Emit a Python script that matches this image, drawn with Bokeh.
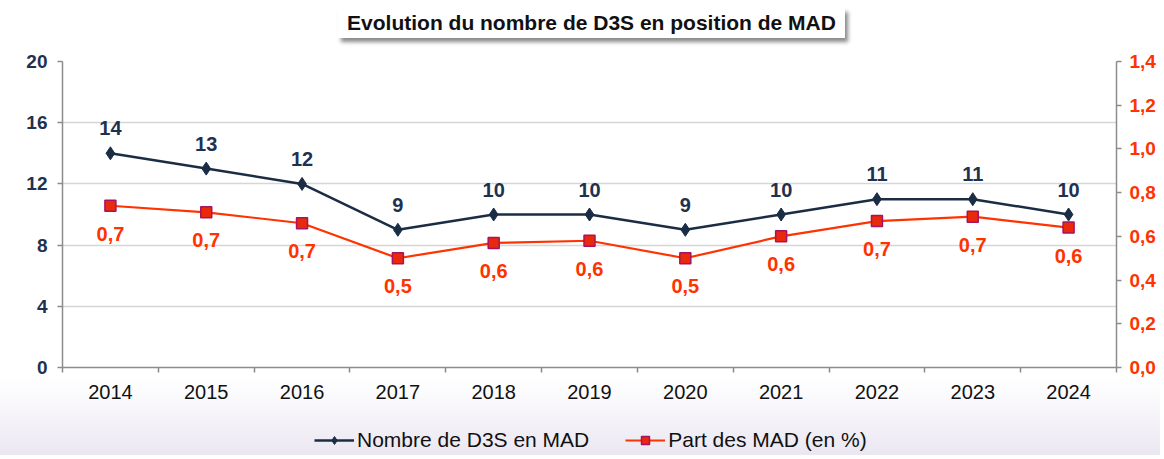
from bokeh.plotting import figure
from bokeh.layouts import column
from bokeh.models import (Range1d, LinearAxis, FixedTicker, CustomJSTickFormatter,
                          Legend, LegendItem, Div)
from bokeh.core.properties import value
from bokeh.embed import file_html
from bokeh.resources import INLINE

# ---- data ----
title_text = "Evolution du nombre de D3S en position de MAD"
years = ["2014", "2015", "2016", "2017", "2018", "2019", "2020", "2021", "2022", "2023", "2024"]
nombre = [14, 13, 12, 9, 10, 10, 9, 10, 11, 11, 10]
part = [0.74, 0.71, 0.66, 0.50, 0.57, 0.58, 0.50, 0.60, 0.67, 0.69, 0.64]
nombre_labels = ["14", "13", "12", "9", "10", "10", "9", "10", "11", "11", "10"]
part_labels = ["0,7", "0,7", "0,7", "0,5", "0,6", "0,6", "0,5", "0,6", "0,7", "0,7", "0,6"]
left_ticks = [0, 4, 8, 12, 16, 20]
right_ticks = [0.0, 0.2, 0.4, 0.6, 0.8, 1.0, 1.2, 1.4]
series_names = ["Nombre de D3S en MAD", "Part des MAD (en %)"]

NAVY = "#1b2c45"
NAVY_TXT = "#1f3150"
ORANGE = "#ff3300"
SQ_FILL = "#e8290c"
SQ_LINE = "#a8125e"
GRAY = "#8c8c8c"
FONT = "Liberation Sans"
W = 1160

n = len(years)
xs = [i + 0.5 for i in range(n)]
bounds = list(range(n + 1))

# ---- title box (with drop shadow) ----
title = Div(text=title_text, width=507, height=30, margin=(8, 0, 0, 338),
            styles={"background": "white", "box-shadow": "3px 4px 4px #8a8a8a",
                    "font-family": FONT, "font-size": "21px", "font-weight": "bold",
                    "color": "#111111", "text-align": "center", "line-height": "30px",
                    "white-space": "nowrap"})

p = figure(width=W, height=377, x_range=Range1d(0, n), y_range=Range1d(0, 20),
           output_backend="svg", toolbar_location=None,
           min_border_left=62, min_border_right=44, min_border_top=23, min_border_bottom=48,
           background_fill_color="white", border_fill_alpha=0, outline_line_color=None)
p.extra_y_ranges = {"pct": Range1d(0, 1.4)}

# x axis: ticks at category boundaries
xa = p.xaxis[0]
xa.ticker = FixedTicker(ticks=bounds)
xa.formatter = CustomJSTickFormatter(code="return '';")
xa.major_label_standoff = 0
xa.major_tick_out = 5
xa.major_tick_in = 0
xa.minor_tick_line_color = None
xa.axis_line_color = GRAY
xa.axis_line_width = 1.5
xa.major_tick_line_color = GRAY
xa.major_tick_line_width = 1.5

# x labels at category centres
xl = LinearAxis(ticker=FixedTicker(ticks=xs),
                formatter=CustomJSTickFormatter(args=dict(years=years),
                                                code="return years[Math.floor(tick)];"),
                axis_line_color=None, major_tick_line_color=None, minor_tick_line_color=None,
                major_label_standoff=6, major_label_text_font=FONT,
                major_label_text_font_size="20px", major_label_text_color="#111111")
p.add_layout(xl, "below")

# left axis
ya = p.yaxis[0]
ya.ticker = FixedTicker(ticks=left_ticks)
ya.major_label_text_font = FONT
ya.major_label_text_font_size = "19px"
ya.major_label_text_font_style = "bold"
ya.major_label_text_color = NAVY_TXT
ya.axis_line_color = GRAY
ya.axis_line_width = 1.5
ya.major_tick_line_color = GRAY
ya.major_tick_line_width = 1.5
ya.major_tick_out = 5
ya.major_tick_in = 0
ya.minor_tick_line_color = None
ya.major_label_standoff = 10

p.xgrid.grid_line_color = None
p.ygrid.ticker = FixedTicker(ticks=left_ticks)
p.ygrid.grid_line_color = "#d6d6d6"
p.ygrid.grid_line_width = 1.5

# right axis
yr = LinearAxis(y_range_name="pct", ticker=FixedTicker(ticks=right_ticks),
                formatter=CustomJSTickFormatter(code="return tick.toFixed(1).replace('.', ',');"),
                major_label_text_font=FONT, major_label_text_font_size="19px",
                major_label_text_font_style="bold", major_label_text_color=ORANGE,
                axis_line_color=GRAY, axis_line_width=1.5,
                major_tick_line_color=GRAY, major_tick_line_width=1.5,
                major_tick_out=5, major_tick_in=0, minor_tick_line_color=None,
                major_label_standoff=8)
p.add_layout(yr, "right")

# series
p.line(xs, nombre, line_color=NAVY, line_width=2.5)
p.scatter(xs, nombre, marker="diamond", size=13, fill_color=NAVY, line_color=NAVY)
p.line(xs, part, y_range_name="pct", line_color=ORANGE, line_width=2.2)
p.scatter(xs, part, y_range_name="pct", marker="square", size=11,
          fill_color=SQ_FILL, line_color=SQ_LINE, line_width=1.5)

p.text(xs, nombre, text=nombre_labels, text_font=value(FONT), text_font_size="20px",
       text_font_style="bold", text_color=NAVY_TXT, text_align="center",
       text_baseline="middle", y_offset=-25)
p.text(xs, part, text=part_labels, y_range_name="pct", text_font=value(FONT),
       text_font_size="20px", text_font_style="bold", text_color=ORANGE,
       text_align="center", text_baseline="middle", y_offset=28)

# legend strip: separate figure so the legend sits outside the plot frame.
# Its renderers reuse the series data but the ranges keep them out of view.
lf = figure(width=W, height=40, output_backend="svg", toolbar_location=None,
            min_border=0, border_fill_alpha=0, background_fill_alpha=0,
            outline_line_color=None, x_range=Range1d(-100, -99), y_range=Range1d(-100, -99))
lf.axis.visible = False
lf.grid.grid_line_color = None
l1 = lf.line(xs, nombre, line_color=NAVY, line_width=2.5)
m1 = lf.scatter(xs, nombre, marker="diamond", size=13, fill_color=NAVY, line_color=NAVY)
l2 = lf.line(xs, part, line_color=ORANGE, line_width=2.2)
m2 = lf.scatter(xs, part, marker="square", size=11, fill_color=SQ_FILL,
                line_color=SQ_LINE, line_width=1.5)
legend = Legend(items=[LegendItem(label=series_names[0], renderers=[l1, m1]),
                       LegendItem(label=series_names[1], renderers=[l2, m2])],
                orientation="horizontal", location=(252, 3),
                border_line_color=None, background_fill_alpha=0,
                label_text_font=FONT, label_text_font_size="21px", label_text_color="#111111",
                glyph_width=40, label_standoff=3, spacing=36, margin=0, padding=5)
lf.add_layout(legend, "center")

layout = column(title, p, lf, spacing=0)
layout.styles = {"background": "linear-gradient(180deg, #ffffff 0%, #ffffff 83%, #ebe7f2 100%)"}

open("out.html", "w").write(file_html(layout, INLINE))
